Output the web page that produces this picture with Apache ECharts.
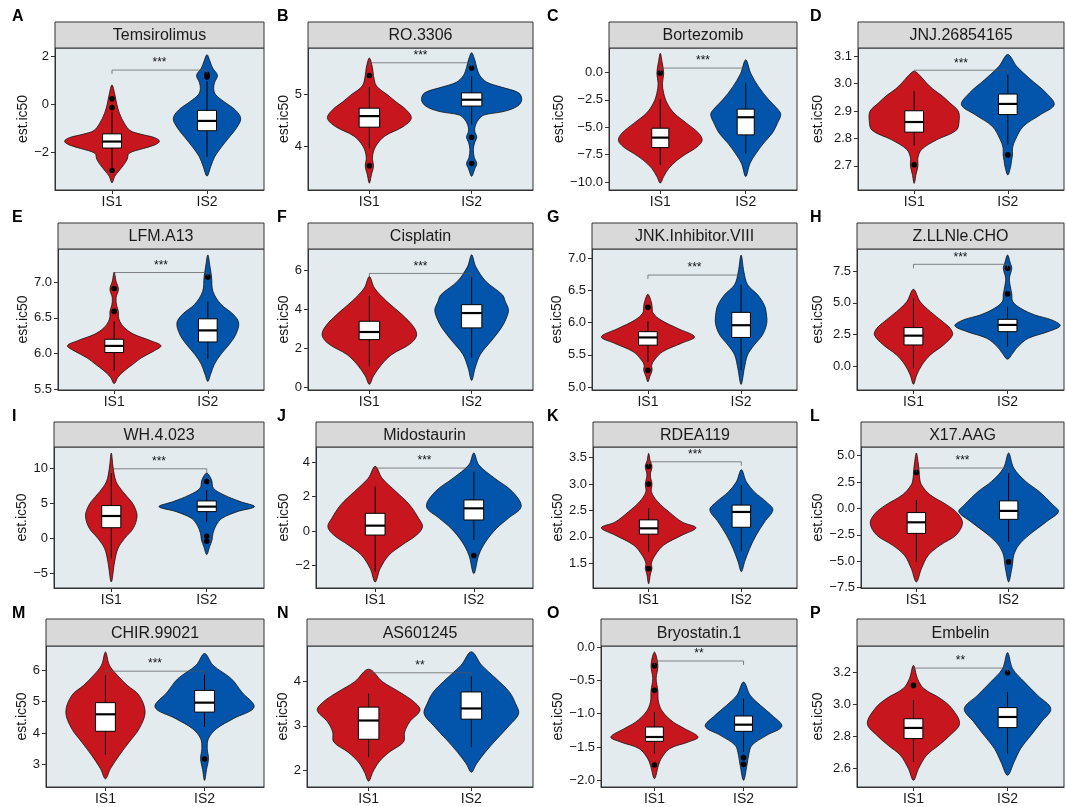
<!DOCTYPE html>
<html>
<head>
<meta charset="utf-8">
<script src="https://cdn.jsdelivr.net/npm/echarts@6/dist/echarts.min.js"></script>
<style>
  html, body { margin: 0; padding: 0; background: #fff; }
  #main { width: 1066px; height: 807px; }
</style>
</head>
<body>
<div id="main"></div>
<script>
// ---- data ----
const drugs = ['Temsirolimus', 'RO.3306', 'Bortezomib', 'JNJ.26854165',
  'LFM.A13', 'Cisplatin', 'JNK.Inhibitor.VIII', 'Z.LLNle.CHO',
  'WH.4.023', 'Midostaurin', 'RDEA119', 'X17.AAG',
  'CHIR.99021', 'AS601245', 'Bryostatin.1', 'Embelin'];
const letters = ['A', 'B', 'C', 'D', 'E', 'F', 'G', 'H', 'I', 'J', 'K', 'L', 'M', 'N', 'O', 'P'];
const groups = ['IS1', 'IS2'];
const signif = ['***', '***', '***', '***', '***', '***', '***', '***',
  '***', '***', '***', '***', '***', '**', '**', '**'];
const bracketAt = [1.42, 5.59, 0.4, 3.049, 7.134, 5.85, 6.74, 8.02,
  9.9, 3.67, 3.42, 3.83, 5.97, 4.19, -0.21, 3.229];

const yLimits = [[-3.58, 2.34], [3.18, 5.87], [-10.73, 2.23], [2.612, 3.13],
  [5.49, 7.463], [-0.12, 7.1], [4.953, 7.145], [-1.83, 9.22],
  [-7.05, 13.0], [-3.33, 4.9], [1.03, 3.7], [-7.53, 5.82],
  [2.29, 6.77], [1.63, 4.79], [-2.1, 0.015], [2.48, 3.368]];
const yTicks = [[-2, 0, 2], [4, 5], [-10, -7.5, -5, -2.5, 0], [2.7, 2.8, 2.9, 3.0, 3.1],
  [5.5, 6, 6.5, 7], [0, 2, 4, 6], [5, 5.5, 6, 6.5, 7], [0, 2.5, 5, 7.5],
  [-5, 0, 5, 10], [-2, 0, 2, 4], [1.5, 2, 2.5, 3, 3.5], [-7.5, -5, -2.5, 0, 2.5, 5],
  [3, 4, 5, 6], [2, 3, 4], [-2, -1.5, -1, -0.5, 0], [2.6, 2.8, 3.0, 3.2]];

// box stats: [lower whisker, q1, median, q3, upper whisker]
const boxIS1 = [[-2.68, -1.83, -1.56, -1.24, -0.31], [3.97, 4.37, 4.58, 4.73, 5.13],
  [-8.45, -6.86, -5.95, -5.09, -2.44], [2.774, 2.823, 2.86, 2.901, 2.972],
  [5.76, 6.014, 6.107, 6.2, 6.45], [1.1, 2.46, 2.85, 3.4, 4.72],
  [5.39, 5.65, 5.77, 5.86, 6.02], [-0.13, 1.7, 2.43, 3.06, 5.36],
  [-2.86, 1.52, 3.19, 4.67, 9.3], [-2.39, -0.24, 0.31, 1.03, 2.59],
  [1.72, 2.05, 2.16, 2.32, 2.54], [-5.06, -2.36, -1.31, -0.39, 0.81],
  [3.32, 4.06, 4.6, 4.97, 5.84], [2.3, 2.7, 3.12, 3.42, 3.72],
  [-1.6, -1.415, -1.35, -1.2, -0.975], [2.638, 2.785, 2.852, 2.91, 3.026]];
const boxIS2 = [[-2.19, -1.11, -0.7, -0.26, 0.95], [4.42, 4.77, 4.89, 5.02, 5.33],
  [-7.38, -5.7, -4.09, -3.35, -0.98], [2.777, 2.887, 2.926, 2.962, 3.033],
  [5.92, 6.162, 6.324, 6.486, 6.73], [1.53, 3.06, 3.82, 4.25, 5.69],
  [5.26, 5.77, 5.96, 6.16, 6.59], [1.57, 2.74, 3.27, 3.71, 4.7],
  [2.38, 3.81, 4.52, 5.33, 6.9], [-0.53, 0.64, 1.32, 1.81, 3.47],
  [1.72, 2.18, 2.47, 2.6, 2.98], [-3.15, -1.03, -0.23, 0.72, 3.35],
  [4.2, 4.67, 4.97, 5.36, 5.95], [2.52, 3.15, 3.39, 3.76, 4.13],
  [-1.575, -1.265, -1.165, -1.035, -0.775], [2.69, 2.854, 2.921, 2.98, 3.078]];

const outIS1 = [[0.22, -0.14, -2.77], [5.35, 3.64], [-0.05], [2.704], [6.91, 6.59], [],
  [6.24, 5.26], [], [], [], [3.33, 3.0, 1.4], [3.41], [], [], [-0.28, -0.65, -1.77], [3.12]];
const outIS2 = [[1.23, 1.13], [5.49, 4.18, 3.68], [], [2.74], [7.07], [], [], [7.71, 5.7],
  [8.1, 0.3, -0.4], [-1.43], [], [-5.06], [3.18], [], [-1.66, -1.76], [3.2]];

// violin outlines: [value, half width in x units], bottom tip to top tip
const violinIS1 = [
  [[-3.28, 0], [-3.0, 0.03], [-2.8, 0.07], [-2.55, 0.12], [-2.3, 0.16], [-2.05, 0.18], [-1.85, 0.33], [-1.7, 0.45], [-1.55, 0.5], [-1.4, 0.45], [-1.25, 0.3], [-1.1, 0.19], [-0.8, 0.13], [-0.4, 0.08], [0.0, 0.05], [0.4, 0.03], [0.8, 0]],
  [[3.31, 0], [3.47, 0.02], [3.63, 0.04], [3.8, 0.03], [4.0, 0.06], [4.2, 0.15], [4.38, 0.33], [4.54, 0.41], [4.7, 0.36], [4.85, 0.26], [4.98, 0.18], [5.15, 0.07], [5.35, 0.04], [5.5, 0.03], [5.68, 0]],
  [[-10.1, 0], [-9.5, 0.04], [-8.75, 0.1], [-8.0, 0.2], [-7.4, 0.31], [-6.8, 0.43], [-6.2, 0.49], [-5.55, 0.45], [-4.65, 0.31], [-3.7, 0.16], [-2.8, 0.08], [-1.9, 0.04], [-1.0, 0.025], [-0.1, 0.04], [1.0, 0.02], [1.75, 0]],
  [[2.636, 0], [2.67, 0.02], [2.7, 0.04], [2.73, 0.04], [2.76, 0.08], [2.795, 0.24], [2.83, 0.45], [2.865, 0.48], [2.9, 0.47], [2.93, 0.38], [2.955, 0.3], [2.98, 0.2], [3.003, 0.13], [3.03, 0.06], [3.045, 0]],
  [[5.58, 0], [5.67, 0.04], [5.76, 0.11], [5.85, 0.2], [5.94, 0.29], [6.04, 0.43], [6.11, 0.5], [6.18, 0.39], [6.27, 0.21], [6.36, 0.11], [6.45, 0.06], [6.52, 0.045], [6.59, 0.045], [6.68, 0.025], [6.78, 0.02], [6.9, 0.045], [7.01, 0.02], [7.14, 0]],
  [[0.17, 0], [0.6, 0.04], [1.19, 0.12], [1.7, 0.22], [2.21, 0.39], [2.63, 0.46], [3.06, 0.44], [3.74, 0.32], [4.42, 0.17], [5.1, 0.05], [5.69, 0]],
  [[5.08, 0], [5.16, 0.02], [5.26, 0.045], [5.34, 0.04], [5.42, 0.07], [5.55, 0.16], [5.68, 0.36], [5.78, 0.5], [5.91, 0.32], [6.04, 0.14], [6.15, 0.055], [6.25, 0.045], [6.33, 0.035], [6.44, 0]],
  [[-1.38, 0], [-0.65, 0.035], [0.13, 0.09], [0.92, 0.18], [1.7, 0.32], [2.48, 0.415], [3.0, 0.39], [3.53, 0.31], [4.31, 0.18], [5.1, 0.07], [6.06, 0]],
  [[-6.19, 0], [-3.33, 0.035], [-1.43, 0.07], [0, 0.14], [1.43, 0.23], [3.1, 0.27], [4.3, 0.25], [5.24, 0.21], [6.67, 0.12], [8.1, 0.05], [10, 0.02], [12.14, 0]],
  [[-2.98, 0], [-2.2, 0.05], [-1.41, 0.14], [-0.83, 0.27], [-0.24, 0.42], [0.25, 0.48], [0.74, 0.44], [1.52, 0.35], [2.3, 0.21], [3.08, 0.07], [3.77, 0]],
  [[1.11, 0], [1.3, 0.02], [1.4, 0.036], [1.5, 0.03], [1.65, 0.07], [1.84, 0.16], [2.03, 0.36], [2.17, 0.51], [2.28, 0.36], [2.47, 0.22], [2.66, 0.1], [2.85, 0.03], [3.0, 0.036], [3.17, 0.018], [3.33, 0.036], [3.45, 0.015], [3.58, 0]],
  [[-6.96, 0], [-5.69, 0.055], [-4.42, 0.13], [-3.47, 0.26], [-2.52, 0.43], [-1.41, 0.5], [-0.5, 0.45], [0.34, 0.33], [1.29, 0.15], [2.24, 0.055], [2.9, 0.035], [3.51, 0.03], [4.3, 0.02], [5.25, 0]],
  [[2.55, 0], [2.87, 0.05], [3.3, 0.14], [3.72, 0.24], [4.14, 0.34], [4.67, 0.4], [5.2, 0.34], [5.52, 0.22], [5.84, 0.12], [6.16, 0.04], [6.58, 0]],
  [[1.76, 0], [1.96, 0.04], [2.19, 0.1], [2.41, 0.2], [2.64, 0.34], [2.86, 0.35], [3.09, 0.4], [3.35, 0.5], [3.54, 0.44], [3.76, 0.3], [3.99, 0.135], [4.27, 0]],
  [[-1.975, 0], [-1.775, 0.045], [-1.675, 0.075], [-1.525, 0.17], [-1.425, 0.38], [-1.35, 0.49], [-1.225, 0.34], [-1.125, 0.21], [-0.975, 0.094], [-0.825, 0.045], [-0.65, 0.038], [-0.475, 0.019], [-0.275, 0.038], [-0.075, 0]],
  [[2.522, 0], [2.596, 0.054], [2.68, 0.14], [2.743, 0.27], [2.806, 0.39], [2.879, 0.49], [2.973, 0.41], [3.036, 0.29], [3.1, 0.11], [3.162, 0.043], [3.246, 0]]
];
const violinIS2 = [
  [[-3.0, 0], [-2.6, 0.04], [-2.2, 0.08], [-1.8, 0.15], [-1.4, 0.23], [-1.0, 0.31], [-0.6, 0.355], [-0.25, 0.3], [0.1, 0.18], [0.4, 0.09], [0.65, 0.07], [0.9, 0.08], [1.2, 0.11], [1.5, 0.06], [1.8, 0.03], [2.06, 0]],
  [[3.44, 0], [3.58, 0.03], [3.68, 0.05], [3.8, 0.025], [3.95, 0.017], [4.08, 0.03], [4.18, 0.05], [4.3, 0.03], [4.42, 0.04], [4.52, 0.07], [4.6, 0.12], [4.67, 0.32], [4.77, 0.45], [4.89, 0.49], [5.02, 0.46], [5.13, 0.29], [5.22, 0.15], [5.35, 0.08], [5.5, 0.05], [5.65, 0.03], [5.78, 0]],
  [[-9.5, 0], [-8.3, 0.05], [-7.4, 0.12], [-6.45, 0.21], [-5.55, 0.31], [-4.65, 0.37], [-3.85, 0.41], [-3.4, 0.38], [-2.5, 0.27], [-1.3, 0.15], [-0.1, 0.06], [1.15, 0]],
  [[2.667, 0], [2.697, 0.03], [2.72, 0.04], [2.74, 0.05], [2.765, 0.05], [2.795, 0.08], [2.844, 0.165], [2.887, 0.35], [2.923, 0.495], [2.966, 0.41], [3.015, 0.245], [3.063, 0.095], [3.106, 0]],
  [[5.61, 0], [5.71, 0.03], [5.85, 0.07], [5.99, 0.14], [6.13, 0.23], [6.27, 0.3], [6.43, 0.33], [6.55, 0.27], [6.69, 0.14], [6.87, 0.055], [7.07, 0.04], [7.2, 0.025], [7.38, 0]],
  [[0.37, 0], [1.02, 0.035], [1.7, 0.085], [2.38, 0.19], [3.06, 0.29], [3.57, 0.34], [3.99, 0.36], [4.4, 0.33], [4.76, 0.3], [5.44, 0.14], [6.2, 0.04], [6.8, 0]],
  [[5.04, 0], [5.29, 0.035], [5.5, 0.07], [5.65, 0.14], [5.81, 0.23], [5.99, 0.275], [6.15, 0.27], [6.27, 0.25], [6.43, 0.18], [6.59, 0.07], [6.79, 0.03], [7.05, 0]],
  [[0.58, 0], [1.05, 0.055], [1.57, 0.11], [2.22, 0.22], [2.74, 0.43], [3.21, 0.56], [3.66, 0.47], [4.05, 0.29], [4.57, 0.14], [5.1, 0.055], [5.7, 0.045], [6.27, 0.03], [6.93, 0.02], [7.71, 0.045], [8.1, 0.03], [8.75, 0]],
  [[-2.29, 0], [-1.19, 0.03], [-0.24, 0.055], [0.71, 0.065], [1.9, 0.1], [2.86, 0.16], [3.81, 0.32], [4.52, 0.5], [5.24, 0.35], [6.19, 0.18], [7.14, 0.07], [8.33, 0.05], [9.29, 0]],
  [[-2.49, 0], [-1.41, 0.05], [-0.63, 0.12], [0.15, 0.23], [0.74, 0.35], [1.42, 0.48], [2.3, 0.39], [3.08, 0.21], [3.86, 0.05], [4.55, 0]],
  [[1.34, 0], [1.53, 0.036], [1.78, 0.09], [2.03, 0.16], [2.28, 0.25], [2.51, 0.34], [2.66, 0.27], [2.85, 0.14], [3.04, 0.054], [3.27, 0]],
  [[-6.96, 0], [-5.9, 0.03], [-5.06, 0.045], [-4.42, 0.055], [-3.47, 0.11], [-2.52, 0.22], [-1.25, 0.41], [-0.3, 0.54], [0.34, 0.48], [1.61, 0.33], [2.56, 0.185], [3.83, 0.055], [5.25, 0]],
  [[2.5, 0], [2.85, 0.02], [3.19, 0.04], [3.51, 0.027], [3.83, 0.04], [4.14, 0.12], [4.46, 0.29], [4.83, 0.5], [5.31, 0.375], [5.73, 0.27], [6.16, 0.085], [6.53, 0]],
  [[1.96, 0], [2.15, 0.05], [2.41, 0.135], [2.71, 0.25], [3.01, 0.37], [3.27, 0.46], [3.5, 0.43], [3.76, 0.37], [4.06, 0.24], [4.36, 0.1], [4.66, 0]],
  [[-2.0, 0], [-1.775, 0.038], [-1.625, 0.057], [-1.475, 0.094], [-1.325, 0.26], [-1.19, 0.43], [-1.025, 0.32], [-0.875, 0.19], [-0.725, 0.075], [-0.525, 0]],
  [[2.554, 0], [2.638, 0.07], [2.722, 0.14], [2.806, 0.25], [2.89, 0.36], [2.973, 0.46], [3.057, 0.32], [3.141, 0.18], [3.225, 0.054], [3.326, 0]]
];

// ---- layout / styling ----
const FONT = "'Liberation Sans', Arial, Helvetica, sans-serif";
const FILLS = ['#C8161F', '#0355AC'];
const PANEL_BG = '#E3EBEE';
const BOX_W = 0.2;

const colRight = [264, 533, 797, 1064];
const panelLeft = [55, 308, 609, 858, 58, 308, 592, 857, 54, 316, 593, 861, 46, 307, 601, 857];
const stripTop = [22, 223, 422, 619];
const plotTop = [48, 249, 447, 646];
const plotBottom = [190, 390, 588, 787];
const letterX = [12, 277, 547, 810];
const yNameX = [23, 284, 559, 818];

const fmtTick = (ticks) => {
    const dec = ticks.some(t => !Number.isInteger(t)) ? 1 : 0;
    return v => v.toFixed(dec).replace('-', '\u2212');
};

const violinItem = (p) => (params, api) => {
    const g = params.dataIndex;
    const cx = g + 1;
    const prof = (g === 0 ? violinIS1 : violinIS2)[p];
    const box = (g === 0 ? boxIS1 : boxIS2)[p];
    const outs = (g === 0 ? outIS1 : outIS2)[p];
    const right = prof.map(d => api.coord([cx + d[1], d[0]]));
    const left = prof.slice(1, -1).reverse().map(d => api.coord([cx - d[1], d[0]]));
    const kids = [];
    kids.push({
        type: 'polygon',
        shape: {points: right.concat(left), smooth: 0.35},
        style: {fill: FILLS[g], stroke: '#111', lineWidth: 0.8}
    });
    const lo = api.coord([cx, box[0]]), hi = api.coord([cx, box[4]]);
    kids.push({type: 'line', shape: {x1: lo[0], y1: lo[1], x2: hi[0], y2: hi[1]}, style: {stroke: '#000', lineWidth: 1}});
    const a = api.coord([cx - BOX_W / 2, box[3]]), b = api.coord([cx + BOX_W / 2, box[1]]);
    kids.push({
        type: 'rect',
        shape: {x: a[0], y: a[1], width: b[0] - a[0], height: b[1] - a[1]},
        style: {fill: '#fff', stroke: '#000', lineWidth: 1}
    });
    const m1 = api.coord([cx - BOX_W / 2, box[2]]), m2 = api.coord([cx + BOX_W / 2, box[2]]);
    kids.push({type: 'line', shape: {x1: m1[0], y1: m1[1], x2: m2[0], y2: m2[1]}, style: {stroke: '#000', lineWidth: 2.2}});
    outs.forEach(v => {
        const c = api.coord([cx, v]);
        kids.push({type: 'circle', shape: {cx: c[0], cy: c[1], r: 2.8}, style: {fill: '#000'}});
    });
    return {type: 'group', children: kids};
};

const bracketItem = (p) => (params, api) => {
    const l = api.coord([1, bracketAt[p]]), r = api.coord([2, bracketAt[p]]);
    return {
        type: 'group',
        children: [
            {type: 'polyline', shape: {points: [[l[0], l[1] + 4], l, r, [r[0], r[1] + 4]]},
             style: {stroke: '#555', lineWidth: 0.7, fill: null}},
            {type: 'text', x: (l[0] + r[0]) / 2, y: l[1] - 1,
             style: {text: signif[p], align: 'center', verticalAlign: 'bottom',
                     fontSize: 12, fontFamily: FONT, fill: '#111'}}
        ]
    };
};

const grid = [], xAxis = [], yAxis = [], series = [], graphic = [];

drugs.forEach((drug, p) => {
    const row = Math.floor(p / 4), col = p % 4;
    const left = panelLeft[p];
    const width = colRight[col] - left;
    const top = plotTop[row];
    const height = plotBottom[row] - top;

    grid.push({
        left, top, width, height, containLabel: false, outerBoundsMode: 'none',
        show: true, backgroundColor: PANEL_BG, borderColor: '#333', borderWidth: 1
    });

    xAxis.push({
        gridIndex: p, type: 'value', min: 0.4, max: 2.6,
        splitLine: {show: false},
        axisLine: {show: true, onZero: false, lineStyle: {color: '#333', width: 1}},
        axisTick: {show: true, customValues: [1, 2], length: 4, lineStyle: {color: '#333'}},
        axisLabel: {customValues: [1, 2], formatter: v => groups[Math.round(v) - 1],
                    margin: 5, fontSize: 14, color: '#1a1a1a', fontFamily: FONT}
    });

    yAxis.push({
        gridIndex: p, type: 'value', min: yLimits[p][0], max: yLimits[p][1],
        splitLine: {show: false},
        axisLine: {show: true, onZero: false, lineStyle: {color: '#333', width: 1}},
        axisTick: {show: true, customValues: yTicks[p], length: 4, lineStyle: {color: '#333'}},
        axisLabel: {customValues: yTicks[p], formatter: fmtTick(yTicks[p]),
                    margin: 6, fontSize: 13, color: '#1a1a1a', fontFamily: FONT},
        name: 'est.ic50', nameLocation: 'middle', nameRotate: 90,
        nameGap: left - yNameX[col] - 7,
        nameTextStyle: {fontSize: 14, color: '#1a1a1a', fontFamily: FONT}
    });

    series.push({
        type: 'custom', xAxisIndex: p, yAxisIndex: p, z: 2,
        renderItem: violinItem(p),
        encode: {x: 0, y: 1},
        data: groups.map((g, i) => [i + 1, (i === 0 ? boxIS1 : boxIS2)[p][2]])
    });
    series.push({
        type: 'custom', xAxisIndex: p, yAxisIndex: p, z: 3,
        renderItem: bracketItem(p),
        encode: {x: 0, y: 1},
        data: [[1.5, bracketAt[p]]]
    });

    // facet strip + panel letter
    graphic.push({
        type: 'rect', z: 10,
        shape: {x: left, y: stripTop[row], width: width, height: top - stripTop[row]},
        style: {fill: '#D9D9D9', stroke: '#333', lineWidth: 1}
    });
    graphic.push({
        type: 'text', z: 11, x: left + width / 2, y: (stripTop[row] + top) / 2 + 1,
        style: {text: drug, align: 'center', verticalAlign: 'middle',
                fontSize: 16, fontFamily: FONT, fill: '#1a1a1a'}
    });
    graphic.push({
        type: 'text', z: 11, x: letterX[col], y: stripTop[row] - 5,
        style: {text: letters[p], align: 'left', verticalAlign: 'middle',
                fontSize: 16, fontWeight: 'bold', fontFamily: FONT, fill: '#000'}
    });
});

const chart = echarts.init(document.getElementById('main'), null, {renderer: 'canvas'});
chart.setOption({
    animation: false,
    backgroundColor: '#fff',
    grid, xAxis, yAxis, series, graphic
});
</script>
</body>
</html>
